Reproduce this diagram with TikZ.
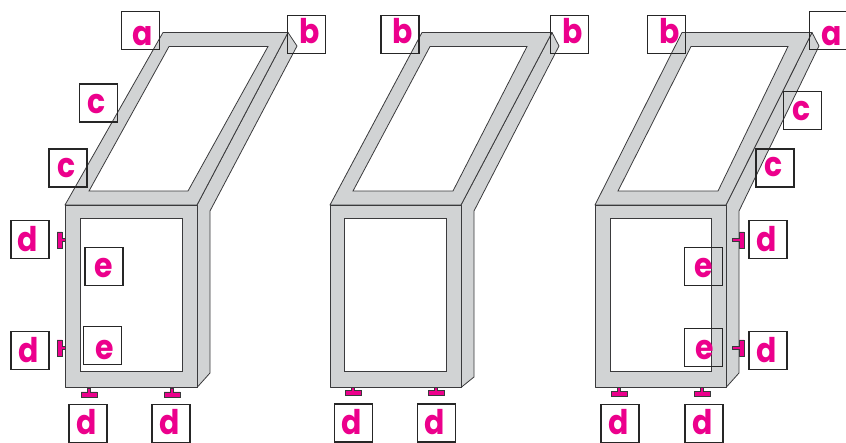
\documentclass[tikz,border=0pt]{standalone}
\usepackage{fontspec}
\setmainfont[FakeStretch=0.88]{Poppins}
\usepackage{tikz}
\definecolor{framegray}{HTML}{D1D3D4}
\definecolor{edgegray}{HTML}{3A3A3C}
\definecolor{labpink}{HTML}{EC008C}
\tikzset{
  framepart/.style={fill=framegray,draw=edgegray,line width=0.8pt,line join=round},
  glasspart/.style={fill=white,draw=edgegray,line width=0.8pt,line join=miter},
  labbox/.style={draw=black!85,line width=1.3pt,minimum size=38pt,inner sep=0pt},
  labtxt/.style={text=labpink,anchor=base,inner sep=0pt,font=\fontsize{34}{34}\selectfont\bfseries},
  teepart/.style={fill=labpink,draw=edgegray,line width=0.5pt},
}
\begin{document}
\begin{tikzpicture}[x=1pt,y=-1pt]
\useasboundingbox (0,0) rectangle (846,443);
% three frames: front face, side return, then the sloped top running back
\foreach \fl/\fr/\il/\ir/\sx/\sb/\tl/\tr/\tip/\itl/\itr/\ibl/\ibr in {%
  65/197/80/182/210/373/163/288/297/169/268/89/188,%
  330/461/344/446/474/377/422/552/559/430/527/353/453,%
  595/726/610/711/739/373/682/812/819/691/788/618/718}{
  \draw[framepart] (\fr,205) -- (\tr,32.5) -- (\tip,46) -- (\sx,211) -- (\sx,\sb) -- (\fr,387.5) -- cycle;
  \draw[framepart] (\fl,205) -- (\tl,32.5) -- (\tr,32.5) -- (\fr,205) -- cycle;
  \draw[glasspart] (\itl,46.5) -- (\itr,46.5) -- (\ibr,191) -- (\ibl,191) -- cycle;
  \draw[framepart] (\fl,205) rectangle (\fr,387.5);
  \draw[glasspart] (\il,218) rectangle (\ir,371.5);
}
% brackets: base point, rotation, stem length
\foreach \bx/\by/\rot/\stem in {%
  65/240/-90/3,65/348/-90/3,89/388/0/4,172/388/0/4,%
  353/387.5/0/3,436/387.5/0/3,%
  732/240/90/7,732/348/90/7,619/387.5/0/4,702/387.5/0/4}{
  \draw[teepart,shift={(\bx,\by)},rotate=\rot] (-1.5,0) -- (-1.5,\stem) -- (-8,\stem) -- (-8,\stem+5) -- (8,\stem+5) -- (8,\stem) -- (1.5,\stem) -- (1.5,0) -- cycle;
}
% labels: box centre, then letter position on its baseline
\foreach \nm/\bx/\by/\tx/\ty/\lab in {%
  aone/140.5/30.5/143/46/a,bone/306.5/34.5/310/44/b,%
  cone/98.5/103/97/114/c,ctwo/68/168/67/178/c,%
  done/30/239.5/28/252/d,dtwo/30/350.5/29/363/d,%
  dthree/88/423.5/87/435/d,dfour/171/423.5/170/435/d,%
  eone/104/266.5/104/278/e,etwo/102.5/345.5/105/360/e,%
  bthree/400/34.5/403/44/b,bfour/569.5/34.5/573/44/b,%
  dfive/353.5/423/352/435/d,dsix/436.5/423/435/435/d,%
  bfive/666.5/34.5/670/44/b,atwo/828.5/30.5/832/46/a,%
  cthree/802.5/110.5/802/121/c,cfour/775/168/774/177/c,%
  dseven/768/239.5/767/252/d,deight/768/350.5/767/363/d,%
  dnine/620/423.5/619/435/d,dten/704/423.5/703/435/d,%
  ethree/703.5/266.5/704/278/e,efour/703.5/347.5/705/360/e}{
  \node[labbox] (\nm) at (\bx,\by) {};
  \node[labtxt] (\nm t) at (\tx,\ty) {\lab};
}
\end{tikzpicture}
\end{document}
